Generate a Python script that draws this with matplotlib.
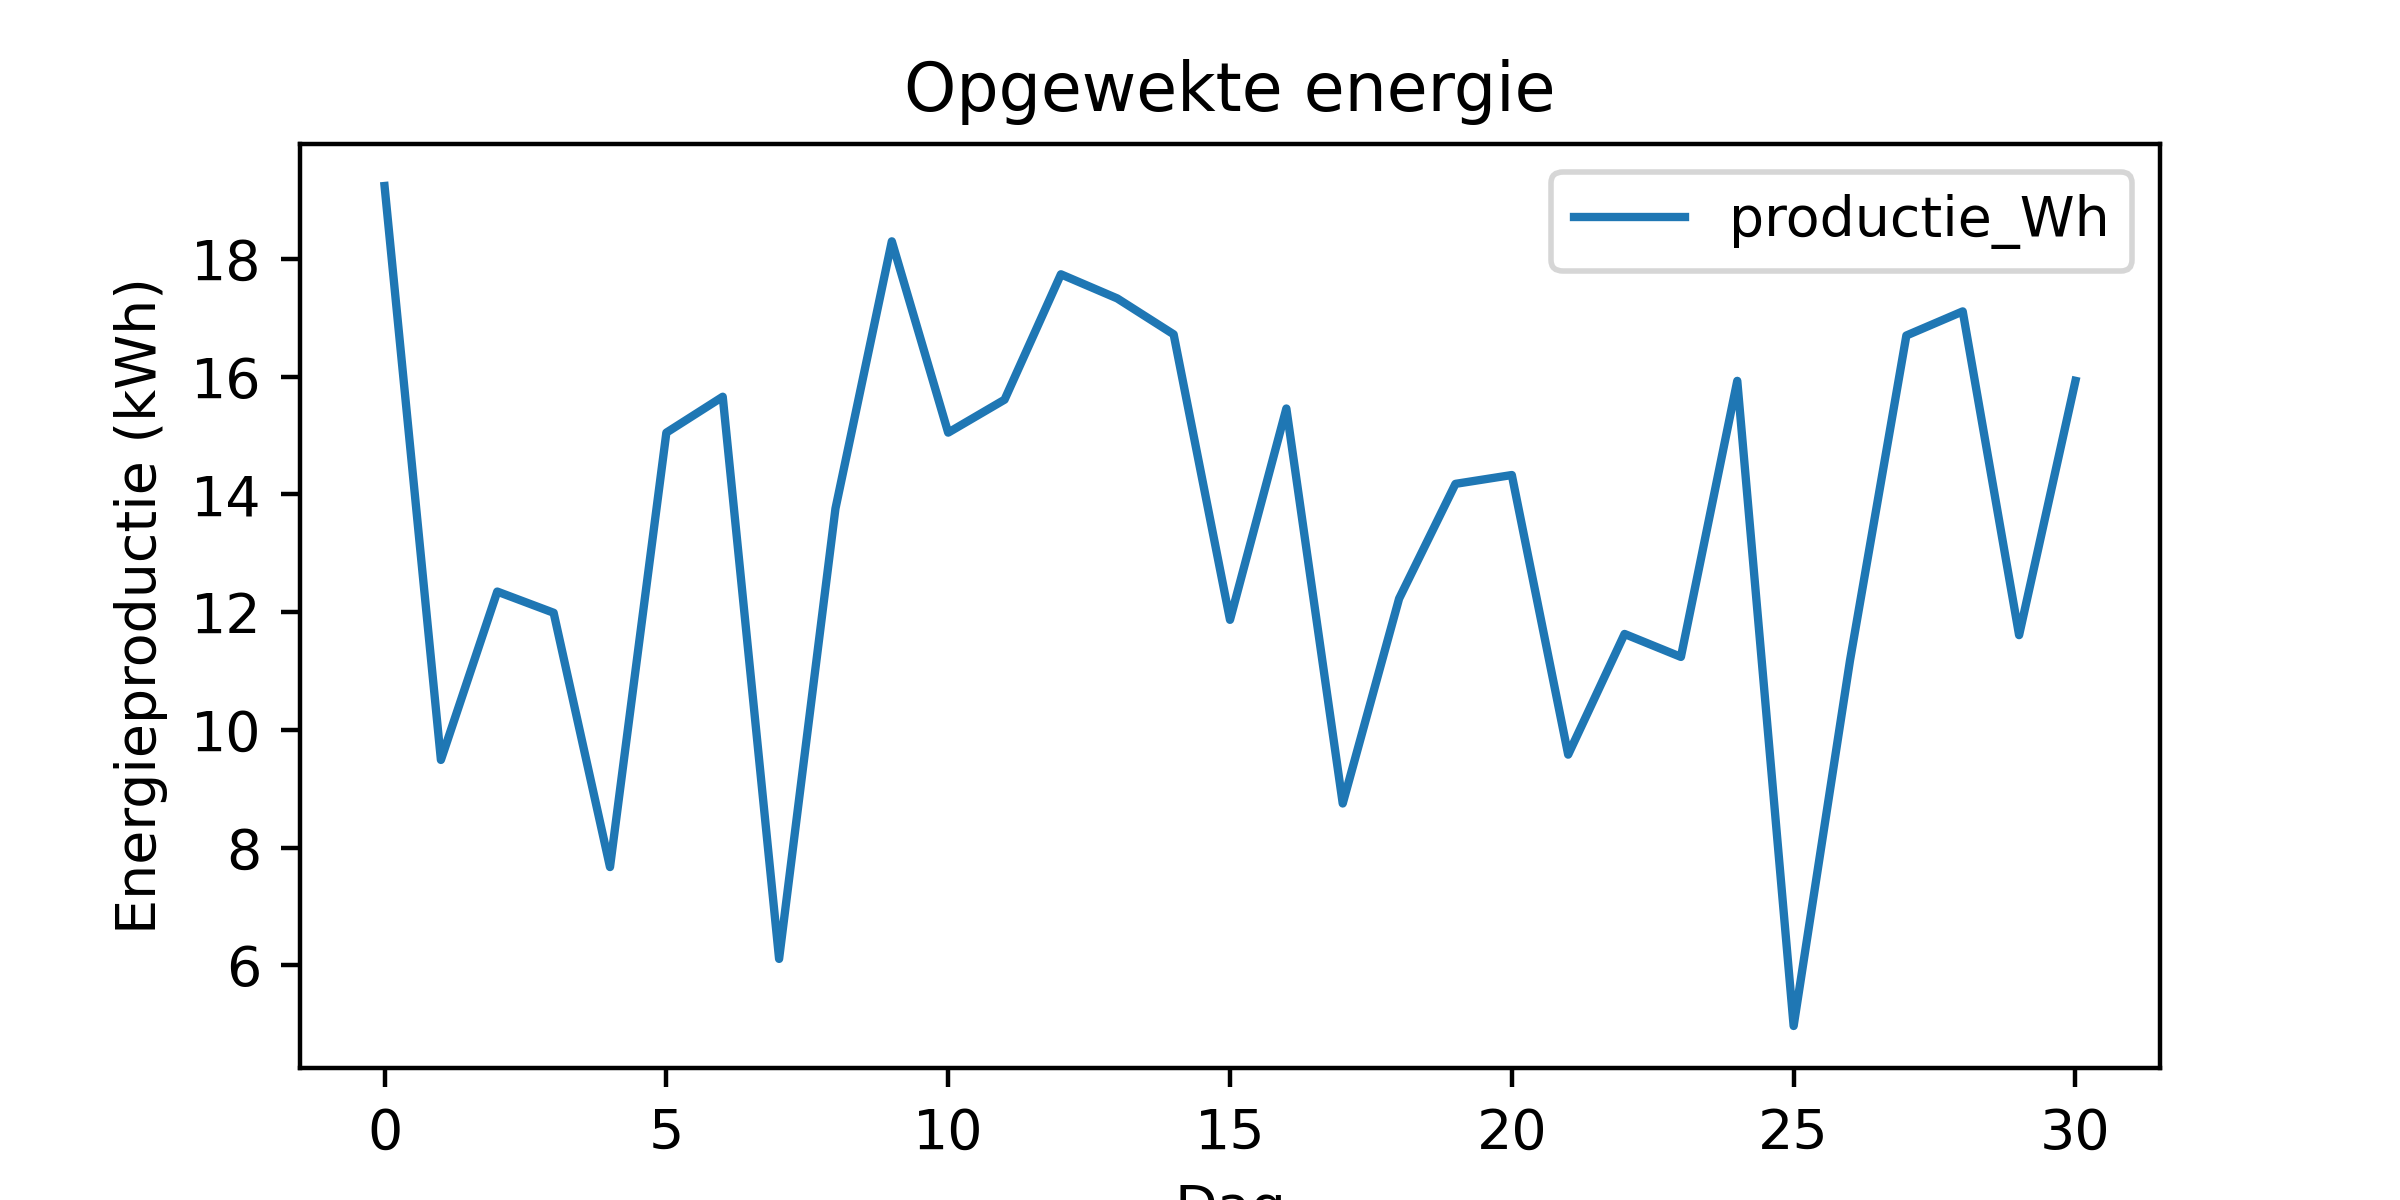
import matplotlib
matplotlib.use('Agg')
import matplotlib.pyplot as plt

# dagelijkse opbrengst
dagen = list(range(31))
productie_kwh = [19.24, 9.49, 12.35, 11.99, 7.67, 15.05, 15.66, 6.11, 13.76, 18.3,
                 15.05, 15.61, 17.74, 17.33, 16.72, 11.87, 15.46, 8.75, 12.23, 14.18,
                 14.33, 9.58, 11.63, 11.24, 15.93, 4.97, 11.18, 16.7, 17.11, 11.61,
                 15.93]

fig = plt.figure(figsize=(6, 3), dpi=400)
plt.plot(dagen, productie_kwh, label='productie_Wh')
plt.title('Opgewekte energie')
plt.xlabel('Dag')
plt.ylabel('Energieproductie (kWh)')
plt.legend()
plt.savefig('out.png')
